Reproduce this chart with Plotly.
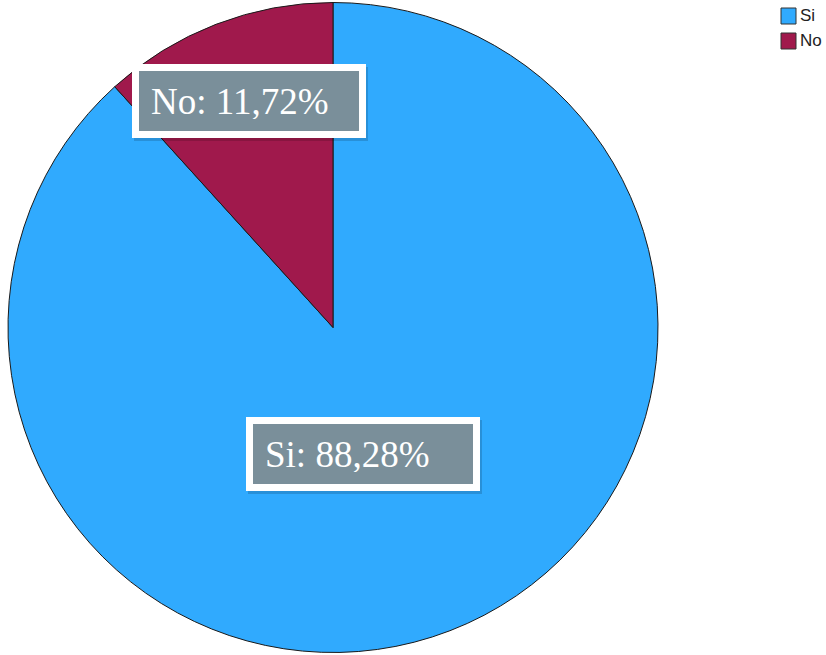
import plotly.graph_objects as go

# Answer categories and their shares (%)
categories = ["Si", "No"]
percentages = [88.28, 11.72]
slice_colors = ["#30AAFE", "#A0194C"]

W, H = 826, 655

fig = go.Figure()
fig.add_trace(go.Pie(
    labels=categories,
    values=percentages,
    sort=False,
    direction="clockwise",
    rotation=0,
    textinfo="none",
    hoverinfo="label+percent",
    showlegend=False,
    marker=dict(colors=slice_colors, line=dict(color="#1a1a1a", width=1)),
    domain=dict(x=[8 / W, 658 / W], y=[0, 1]),
))

# Value callouts: gray box with thick white frame, white serif text
def callout(label, value, cx, cy):
    txt = f"{label}: {value:.2f}%".replace(".", ",")
    # soft shadow
    fig.add_annotation(
        x=(cx + 2) / W, y=1 - (cy + 3) / H, xref="paper", yref="paper",
        xanchor="center", yanchor="middle",
        text="", showarrow=False, width=196, height=36,
        bgcolor="rgba(0,0,0,0.15)", borderpad=12, borderwidth=7,
        bordercolor="rgba(0,0,0,0.15)",
    )
    fig.add_annotation(
        x=cx / W, y=1 - cy / H, xref="paper", yref="paper",
        xanchor="center", yanchor="middle",
        text=txt, showarrow=False, align="left", width=196, height=36,
        font=dict(family="Liberation Serif", size=37, color="white"),
        bgcolor="#7A8F9A", bordercolor="white", borderwidth=7, borderpad=12,
    )

callout(categories[1], percentages[1], 249, 101)
callout(categories[0], percentages[0], 363, 454)

# Legend: colour swatches with labels in the top-right corner
for i, (name, col) in enumerate(zip(categories, slice_colors)):
    y0 = 8 + i * 25
    fig.add_shape(
        type="rect", xref="paper", yref="paper",
        x0=781 / W, x1=796 / W, y0=1 - (y0 + 16) / H, y1=1 - y0 / H,
        fillcolor=col, line=dict(color="#333", width=1),
    )
    fig.add_annotation(
        x=798 / W, y=1 - (y0 + 8) / H, xref="paper", yref="paper",
        xanchor="left", yanchor="middle", showarrow=False, text=name,
        font=dict(family="Liberation Sans", size=17, color="#222"),
    )

fig.update_layout(
    width=W, height=H,
    margin=dict(l=0, r=0, t=0, b=0),
    paper_bgcolor="white",
    plot_bgcolor="white",
    showlegend=False,
)

fig.write_html("out.html")
